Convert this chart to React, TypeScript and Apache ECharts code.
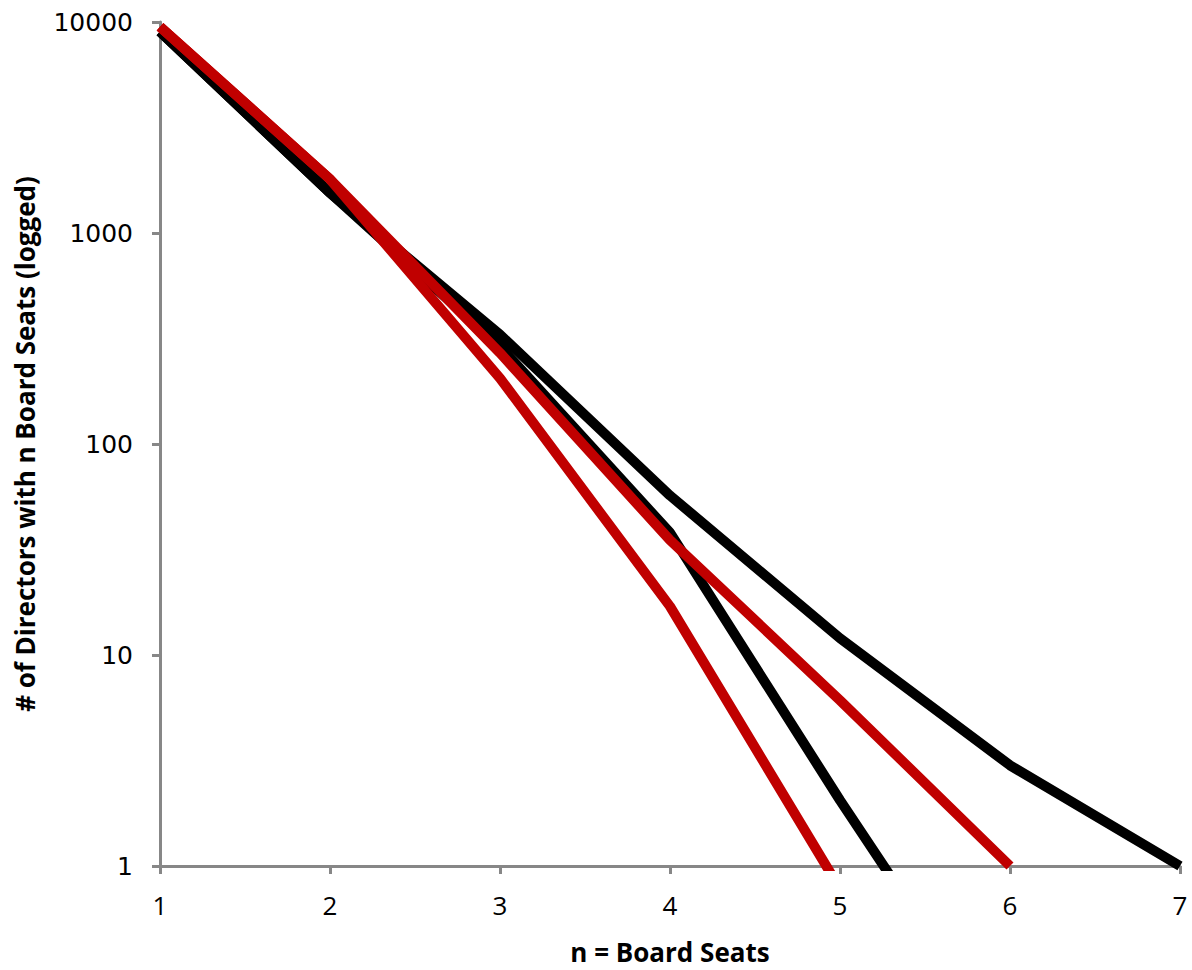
import React, { useEffect, useRef } from "react";
import * as echarts from "echarts";

const seats = [1, 2, 3, 4, 5, 6, 7];
const blackA = [9000, 1550, 330, 57, 12, 3, 1];
const blackB = [9000, 1550, 290, 38, 2.05, 0.126];
const redA = [9500, 1800, 205, 17, 0.78];
const redB = [9500, 1800, 270, 35, 6.1, 1];

const pairs = (vals: number[]) => vals.map((v, i) => [seats[i], v]);

export default function App() {
  const ref = useRef<HTMLDivElement>(null);
  useEffect(() => {
    if (!ref.current) return;
    const chart = echarts.init(ref.current, undefined, { renderer: "svg" });
    const axisGrey = "#878787";
    const mk = (name: string, vals: number[], color: string) => ({
      name,
      type: "line",
      data: pairs(vals),
      showSymbol: false,
      symbol: "none",
      clip: true,
      lineStyle: { color, width: 10 },
    });
    const titleFont = "'Liberation Sans Narrow', 'Open Sans', sans-serif";
    chart.setOption({
      animation: false,
      backgroundColor: "#ffffff",
      grid: { left: 160, right: 12, top: 22, bottom: 104, containLabel: false },
      xAxis: {
        type: "value",
        min: 1,
        max: 7,
        interval: 1,
        name: "n = Board Seats",
        nameLocation: "middle",
        nameGap: 73,
        nameTextStyle: {
          fontFamily: titleFont,
          fontWeight: "bold",
          fontSize: 26,
          color: "#000",
        },
        axisLine: { lineStyle: { color: axisGrey, width: 3 } },
        axisTick: { show: true, length: 8, lineStyle: { color: axisGrey, width: 3 } },
        axisLabel: {
          margin: 26,
          fontFamily: titleFont,
          fontSize: 26,
          color: "#000",
        },
        splitLine: { show: false },
      },
      yAxis: {
        type: "log",
        logBase: 10,
        min: 1,
        max: 10000,
        name: "# of Directors with n Board Seats (logged)",
        nameLocation: "middle",
        nameGap: 122,
        nameRotate: 90,
        nameTextStyle: {
          fontFamily: titleFont,
          fontWeight: "bold",
          fontSize: 26,
          color: "#000",
        },
        axisLine: { show: true, lineStyle: { color: axisGrey, width: 3 } },
        axisTick: { show: true, length: 8, lineStyle: { color: axisGrey, width: 3 } },
        axisLabel: {
          margin: 27,
          fontFamily: "'DejaVu Sans', sans-serif",
          fontSize: 25,
          color: "#000",
          formatter: (v: number) => String(Math.round(v)),
        },
        splitLine: { show: false },
      },
      series: [
        mk("A", blackA, "#000000"),
        mk("B", blackB, "#000000"),
        mk("C", redA, "#C00000"),
        mk("D", redB, "#C00000"),
      ],
    });
    return () => chart.dispose();
  }, []);
  return (
    <div
      ref={ref}
      style={{ position: "fixed", left: 0, top: 0, width: 1192, height: 970, background: "#fff" }}
    />
  );
}
